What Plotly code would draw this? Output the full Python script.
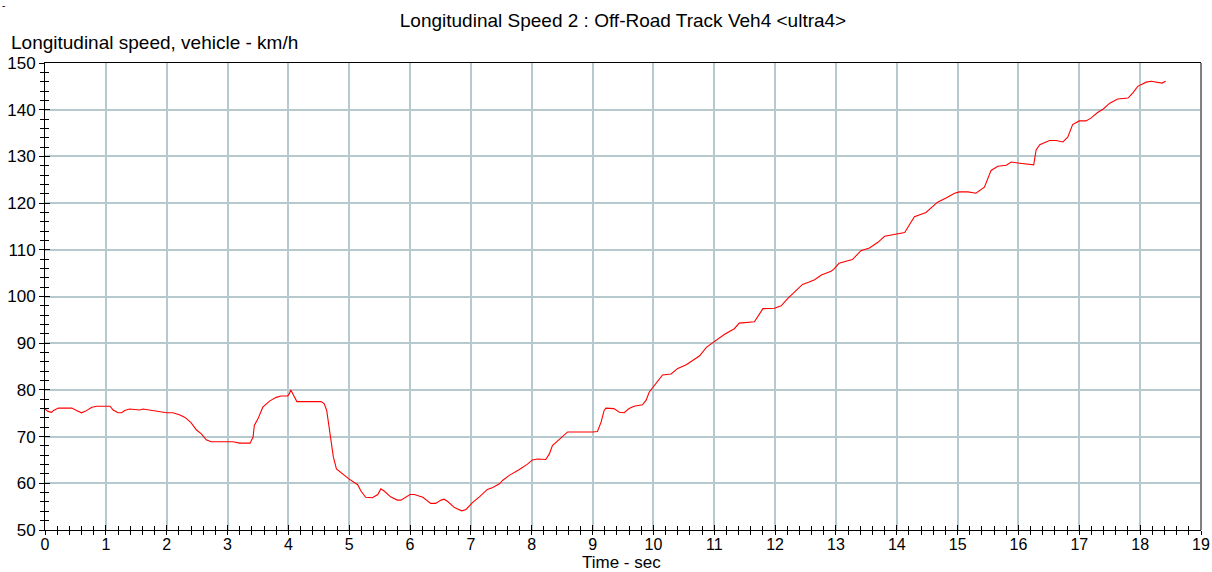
import plotly.graph_objects as go

# Time axis (s) and longitudinal vehicle speed (km/h)
time_s = [
    0.00, 0.05, 0.11, 0.14, 0.22, 0.44, 0.52, 0.60, 0.66, 0.77, 0.85, 1.07,
    1.12, 1.20, 1.26, 1.31, 1.39, 1.56, 1.61, 1.78, 2.00, 2.10, 2.21, 2.30,
    2.40, 2.49, 2.57, 2.65, 2.73, 3.09, 3.20, 3.37, 3.42, 3.44, 3.50, 3.58,
    3.69, 3.80, 3.88, 3.99, 4.02, 4.04, 4.07, 4.14, 4.54, 4.59, 4.63, 4.67,
    4.71, 4.74, 4.79, 4.89, 5.00, 5.14, 5.19, 5.27, 5.38, 5.47, 5.52, 5.58,
    5.68, 5.79, 5.85, 6.00, 6.07, 6.21, 6.34, 6.42, 6.51, 6.56, 6.62, 6.73,
    6.85, 6.92, 7.03, 7.14, 7.27, 7.36, 7.47, 7.52, 7.63, 7.79, 7.93, 8.01,
    8.10, 8.23, 8.29, 8.34, 8.42, 8.51, 8.59, 9.00, 9.08, 9.14, 9.19, 9.22,
    9.35, 9.44, 9.52, 9.60, 9.68, 9.82, 9.88, 9.93, 10.00, 10.07, 10.15, 10.29,
    10.40, 10.54, 10.65, 10.76, 10.87, 11.00, 11.17, 11.33, 11.41, 11.66, 11.72, 11.80,
    11.99, 12.10, 12.21, 12.35, 12.45, 12.56, 12.65, 12.76, 12.92, 12.97, 13.05, 13.27,
    13.41, 13.55, 13.69, 13.80, 13.99, 14.13, 14.21, 14.29, 14.48, 14.67, 14.81, 14.95,
    15.03, 15.17, 15.30, 15.44, 15.55, 15.66, 15.80, 15.88, 15.99, 16.13, 16.25, 16.29,
    16.35, 16.51, 16.62, 16.73, 16.81, 16.89, 17.00, 17.11, 17.19, 17.30, 17.39, 17.50,
    17.63, 17.80, 17.88, 17.96, 18.10, 18.18, 18.32, 18.36, 18.42,
]
speed_kmh = [
    75.9, 75.4, 75.2, 75.6, 76.1, 76.1, 75.6, 75.1, 75.4, 76.3, 76.5, 76.5,
    75.7, 75.1, 75.1, 75.6, 75.9, 75.7, 75.9, 75.5, 75.1, 75.1, 74.7, 74.1,
    73.0, 71.4, 70.6, 69.3, 68.9, 68.9, 68.6, 68.6, 69.9, 72.4, 73.8, 76.3,
    77.6, 78.4, 78.7, 78.7, 79.3, 80.0, 79.3, 77.5, 77.5, 77.0, 75.6, 72.0,
    68.4, 65.6, 63.1, 62.0, 60.9, 59.7, 58.4, 57.0, 56.9, 57.6, 58.8, 58.3,
    57.1, 56.4, 56.4, 57.6, 57.6, 57.0, 55.7, 55.7, 56.4, 56.6, 56.1, 54.8,
    54.1, 54.4, 55.9, 57.1, 58.7, 59.1, 59.9, 60.6, 61.7, 62.9, 64.1, 65.0,
    65.2, 65.1, 66.3, 68.1, 69.0, 70.1, 71.0, 71.0, 71.1, 73.1, 75.6, 76.1,
    76.0, 75.2, 75.1, 76.0, 76.5, 76.8, 77.8, 79.5, 80.7, 81.8, 83.2, 83.4,
    84.6, 85.4, 86.3, 87.3, 89.1, 90.4, 91.9, 93.1, 94.3, 94.6, 95.7, 97.4,
    97.5, 98.0, 99.6, 101.4, 102.6, 103.1, 103.6, 104.6, 105.4, 105.9, 107.1, 107.9,
    109.8, 110.4, 111.6, 112.9, 113.4, 113.7, 115.4, 117.1, 118.0, 120.2, 121.1, 122.1,
    122.4, 122.4, 122.1, 123.4, 127.0, 127.9, 128.1, 128.8, 128.6, 128.4, 128.2, 131.4,
    132.5, 133.4, 133.4, 133.1, 134.1, 136.8, 137.6, 137.6, 138.2, 139.4, 140.1, 141.4,
    142.3, 142.5, 143.6, 145.0, 145.9, 146.1, 145.9, 145.7, 146.1,
]

x_range = [0, 19]
y_range = [50, 150]
x_ticks = list(range(0, 20))
y_ticks = list(range(50, 151, 10))

FONT = "Liberation Sans, Arial, sans-serif"
GRID = "#b5c9ce"

fig = go.Figure()
fig.add_trace(go.Scatter(
    x=time_s, y=speed_kmh, mode="lines",
    line=dict(color="#ff0000", width=1.1),
    showlegend=False, hoverinfo="x+y",
))
# invisible trace on the secondary axes so they render their inward ticks
fig.add_trace(go.Scatter(x=[None], y=[None], xaxis="x2", yaxis="y2",
                         showlegend=False, hoverinfo="skip"))

common = dict(showline=True, linecolor="black", linewidth=1,
              tickcolor="black", tickwidth=1, zeroline=False, automargin=False)

fig.update_layout(
    width=1212, height=572,
    margin=dict(l=45, r=11, t=63, b=42, autoexpand=False),
    paper_bgcolor="white", plot_bgcolor="white",
    font=dict(family=FONT, size=17, color="black"),
    title=dict(text="Longitudinal Speed 2 : Off-Road Track Veh4 <ultra4>",
               x=(623 - 45) / 1156, xref="paper", xanchor="center",
               y=1 - 20 / 572, yref="container", yanchor="middle",
               font=dict(family=FONT, size=19, color="black")),
    xaxis=dict(range=x_range, tickvals=x_ticks, ticks="outside", ticklen=4,
               ticklabelstandoff=-4,
               tickfont=dict(family=FONT, size=16, color="black"),
               minor=dict(dtick=0.2, ticks="outside", ticklen=4,
                          tickcolor="black", showgrid=False),
               showgrid=True, gridcolor=GRID, gridwidth=1.5,
               mirror=True, **common),
    yaxis=dict(range=y_range, tickvals=y_ticks, ticks="outside", ticklen=5,
               tickfont=dict(family=FONT, size=17, color="black"),
               minor=dict(dtick=2, ticks="outside", ticklen=4,
                          tickcolor="black", showgrid=False),
               showgrid=True, gridcolor=GRID, gridwidth=1.5, **common),
    xaxis2=dict(range=x_range, overlaying="x", tickvals=x_ticks, ticks="inside",
                ticklen=5, showticklabels=False, showgrid=False,
                minor=dict(dtick=0.2, ticks="inside", ticklen=4,
                           tickcolor="black", showgrid=False),
                tickcolor="black", zeroline=False, showline=False,
                automargin=False),
    yaxis2=dict(range=y_range, overlaying="y", tickvals=y_ticks, ticks="inside",
                ticklen=5, showticklabels=False, showgrid=False,
                minor=dict(dtick=2, ticks="inside", ticklen=4,
                           tickcolor="black", showgrid=False),
                tickcolor="black", zeroline=False, showline=False,
                automargin=False),
)

# right frame edge
fig.add_shape(type="line", xref="paper", yref="paper", x0=1, x1=1, y0=0, y1=1,
              line=dict(color="#808080", width=2))

fig.add_annotation(text="Longitudinal speed, vehicle - km/h",
                   xref="paper", yref="paper", x=(9 - 45) / 1156,
                   y=(530 - 42) / 467, xanchor="left", yanchor="middle",
                   showarrow=False, font=dict(family=FONT, size=19))
fig.add_annotation(text="Time - sec", xref="paper", yref="paper",
                   x=(621 - 45) / 1156, y=(530 - 562) / 467,
                   xanchor="center", yanchor="middle", showarrow=False,
                   borderpad=0, font=dict(family=FONT, size=17))
fig.add_annotation(text="-", xref="paper", yref="paper",
                   x=(0 - 45) / 1156, y=(530 - 6) / 467,
                   xanchor="left", yanchor="middle", showarrow=False,
                   font=dict(family=FONT, size=10))

fig.write_html("out.html")
